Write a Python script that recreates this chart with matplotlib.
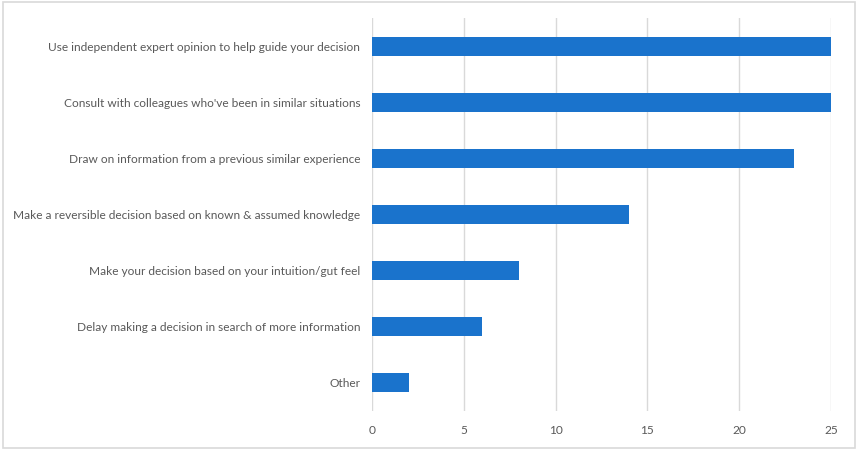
import matplotlib
matplotlib.use('Agg')
import matplotlib.pyplot as plt
from matplotlib.patches import Rectangle

# Datos
categorias = [
    "Use independent expert opinion to help guide your decision",
    "Consult with colleagues who've been in similar situations",
    "Draw on information from a previous similar experience",
    "Make a reversible decision based on known & assumed knowledge",
    "Make your decision based on your intuition/gut feel",
    "Delay making a decision in search of more information",
    "Other",
]
valores = [25, 25, 23, 14, 8, 6, 2]
ticks_x = [0, 5, 10, 15, 20, 25]

plt.rcParams['font.family'] = ['Lato', 'DejaVu Sans']

fig = plt.figure(figsize=(8.58, 4.5), dpi=100)
ax = fig.add_axes([0.4336, 0.0867, 0.5349, 0.8733])

pos = list(range(len(categorias)))
ax.barh(pos, valores, height=0.34, color='#1A73CC', zorder=3)
ax.set_ylim(len(categorias) - 0.5, -0.5)
ax.set_xlim(0, 25)
ax.set_xticks(ticks_x)
ax.set_yticks(pos)
ax.set_yticklabels(categorias)

ax.grid(axis='x', color='#D9D9D9', linewidth=1, zorder=0)
for s in ax.spines.values():
    s.set_visible(False)
ax.tick_params(axis='both', length=0, colors='#595959', labelsize=8.6)
ax.tick_params(axis='y', pad=8.5)
ax.tick_params(axis='x', pad=10)

# Borde exterior del gráfico
fig.patches.append(Rectangle((0.003, 0.005), 0.994, 0.99, transform=fig.transFigure,
                             fill=False, edgecolor='#D9D9D9', linewidth=1.2))

fig.savefig('out.png', dpi=100)
plt.close()
